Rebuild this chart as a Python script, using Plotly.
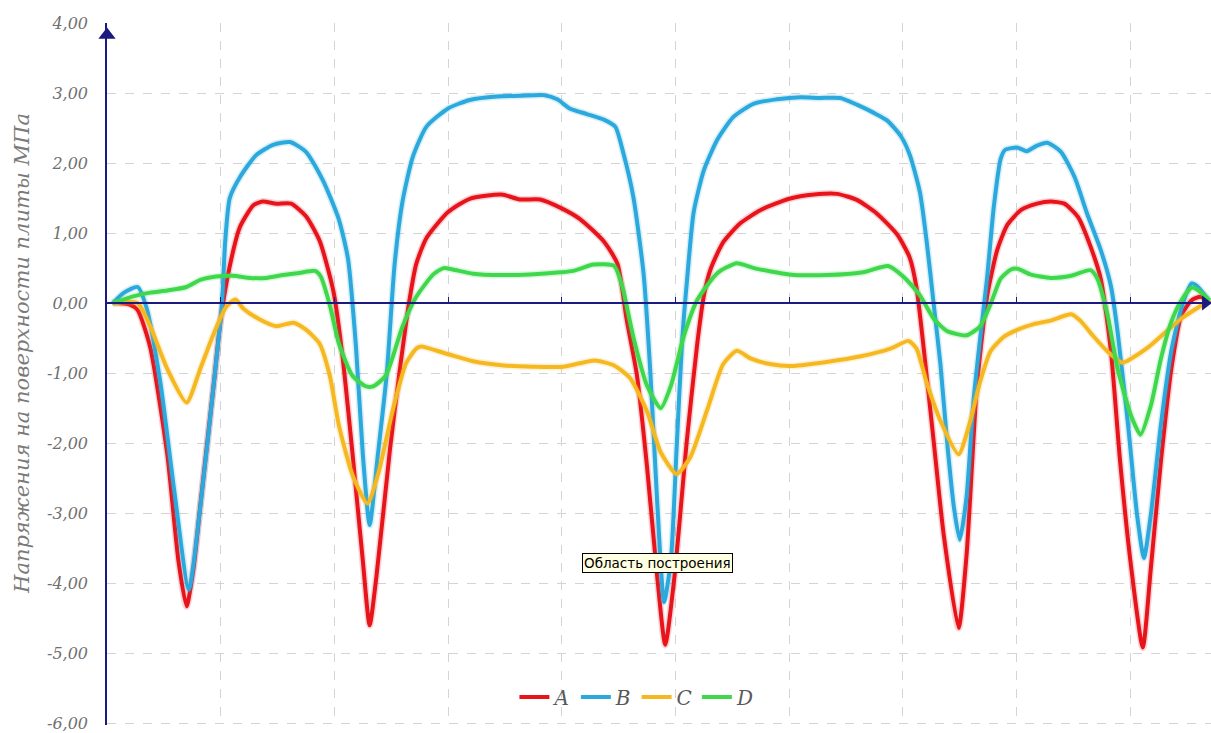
import plotly.graph_objects as go

# ---- data (x in grid units, y in MPa) ----
x_a = [0.05, 0.2, 0.27, 0.38, 0.53, 0.63, 0.70, 0.76, 0.82, 0.94, 1.0, 1.08, 1.17, 1.29, 1.37, 1.49, 1.62, 1.75, 1.87, 1.99,
       2.07, 2.16, 2.25, 2.31, 2.37, 2.49, 2.57, 2.66, 2.72, 2.81, 3.0, 3.19, 3.47, 3.63, 3.81, 3.99, 4.16, 4.37, 4.49, 4.57,
       4.66, 4.75, 4.84, 4.91, 4.99, 5.10, 5.19, 5.25, 5.31, 5.42, 5.57, 5.75, 6.0, 6.22, 6.42, 6.60, 6.77, 6.95, 7.06, 7.12,
       7.18, 7.27, 7.36, 7.49, 7.56, 7.65, 7.74, 7.83, 7.92, 8.04, 8.18, 8.30, 8.42, 8.54, 8.65, 8.74, 8.83, 8.91, 9.01, 9.11,
       9.18, 9.27, 9.36, 9.45, 9.54, 9.62, 9.70]
y_a = [0.0, -0.02, -0.1, -0.63, -2.16, -3.7, -4.33, -3.8, -2.9, -1.14, -0.23, 0.53, 1.09, 1.40, 1.45, 1.42, 1.42, 1.24, 0.89, 0.18,
       -0.74, -2.16, -3.68, -4.60, -3.9, -2.07, -1.02, 0.04, 0.56, 0.93, 1.30, 1.49, 1.55, 1.48, 1.48, 1.36, 1.20, 0.88, 0.56, -0.23,
       -1.02, -2.34, -3.92, -4.88, -3.92, -1.96, -0.60, 0.11, 0.49, 0.87, 1.14, 1.33, 1.49, 1.55, 1.56, 1.47, 1.28, 0.98, 0.65, 0.22,
       -0.60, -1.96, -3.32, -4.64, -3.6, -1.21, 0.09, 0.76, 1.12, 1.33, 1.42, 1.45, 1.42, 1.23, 0.81, 0.35, -0.69, -2.25, -3.80, -4.92,
       -3.80, -2.25, -0.95, -0.17, 0.04, 0.09, 0.0]

x_b = [0.05, 0.15, 0.27, 0.35, 0.47, 0.59, 0.72, 0.82, 0.94, 1.01, 1.04, 1.08, 1.17, 1.31, 1.46, 1.61, 1.75, 1.90, 2.04, 2.12,
       2.19, 2.25, 2.31, 2.38, 2.46, 2.53, 2.60, 2.69, 2.81, 3.0, 3.19, 3.43, 3.63, 3.84, 3.96, 4.07, 4.22, 4.37, 4.47, 4.54,
       4.63, 4.72, 4.78, 4.84, 4.90, 4.96, 5.01, 5.06, 5.10, 5.16, 5.25, 5.37, 5.51, 5.69, 5.89, 6.10, 6.27, 6.45, 6.60, 6.74,
       6.86, 6.98, 7.06, 7.15, 7.21, 7.27, 7.33, 7.39, 7.45, 7.50, 7.56, 7.62, 7.68, 7.74, 7.80, 7.86, 7.90, 8.01, 8.09, 8.18,
       8.27, 8.39, 8.51, 8.62, 8.74, 8.83, 8.89, 8.98, 9.06, 9.12, 9.18, 9.27, 9.36, 9.45, 9.54, 9.59, 9.68]
y_b = [0.0, 0.15, 0.23, -0.08, -1.14, -2.66, -4.09, -2.92, -1.14, -0.03, 0.89, 1.5, 1.80, 2.11, 2.26, 2.30, 2.16, 1.75, 1.19, 0.63,
       -0.63, -2.16, -3.17, -2.2, -1.02, 0.56, 1.46, 2.09, 2.52, 2.78, 2.90, 2.95, 2.96, 2.97, 2.91, 2.78, 2.70, 2.62, 2.52, 2.15,
       1.51, 0.41, -1.02, -2.87, -4.27, -3.66, -2.07, -0.5, 0.3, 1.30, 1.90, 2.34, 2.66, 2.85, 2.91, 2.94, 2.93, 2.93, 2.83, 2.72,
       2.61, 2.39, 2.12, 1.58, 0.87, 0.0, -0.87, -2.0, -2.93, -3.38, -2.77, -1.41, -0.5, 0.35, 1.38, 2.06, 2.19, 2.22, 2.17, 2.25,
       2.29, 2.16, 1.80, 1.28, 0.76, 0.24, -0.43, -1.73, -3.03, -3.64, -3.03, -1.73, -0.69, -0.07, 0.28, 0.24, 0.06]

x_c = [0.05, 0.27, 0.38, 0.53, 0.70, 0.82, 0.94, 1.05, 1.13, 1.20, 1.34, 1.49, 1.64, 1.75, 1.87, 1.96, 2.04, 2.16, 2.29, 2.39,
       2.51, 2.63, 2.72, 2.76, 3.0, 3.22, 3.49, 3.75, 4.01, 4.16, 4.29, 4.46, 4.60, 4.75, 4.87, 5.01, 5.13, 5.28, 5.42, 5.54,
       5.66, 5.83, 6.0, 6.33, 6.63, 6.89, 7.05, 7.12, 7.21, 7.33, 7.49, 7.59, 7.68, 7.77, 7.89, 8.01, 8.15, 8.30, 8.48, 8.56,
       8.68, 8.80, 8.93, 9.01, 9.15, 9.30, 9.45, 9.59, 9.70]
y_c = [0.0, 0.0, -0.33, -0.94, -1.42, -0.94, -0.43, -0.05, 0.05, -0.08, -0.23, -0.33, -0.28, -0.38, -0.58, -1.04, -1.75, -2.46, -2.86, -2.41,
       -1.55, -0.86, -0.65, -0.62, -0.73, -0.83, -0.89, -0.91, -0.91, -0.86, -0.82, -0.89, -1.07, -1.55, -2.13, -2.44, -2.20, -1.52, -0.87, -0.68,
       -0.79, -0.87, -0.90, -0.84, -0.76, -0.65, -0.54, -0.65, -1.14, -1.68, -2.16, -1.70, -1.12, -0.69, -0.48, -0.38, -0.30, -0.25, -0.16, -0.25,
       -0.48, -0.69, -0.85, -0.79, -0.64, -0.43, -0.22, -0.07, 0.04]

x_d = [0.05, 0.24, 0.38, 0.53, 0.70, 0.82, 0.96, 1.11, 1.26, 1.40, 1.55, 1.69, 1.83, 1.88, 1.96, 2.04, 2.16, 2.28, 2.34, 2.45,
       2.60, 2.72, 2.87, 2.96, 3.04, 3.22, 3.46, 3.72, 3.99, 4.10, 4.28, 4.46, 4.53, 4.63, 4.75, 4.87, 4.96, 5.07, 5.19, 5.37,
       5.54, 5.69, 6.0, 6.33, 6.65, 6.87, 7.01, 7.15, 7.27, 7.39, 7.56, 7.68, 7.77, 7.86, 7.95, 8.01, 8.12, 8.30, 8.48, 8.65,
       8.71, 8.80, 8.89, 9.01, 9.09, 9.18, 9.27, 9.36, 9.45, 9.54, 9.59, 9.70]
y_d = [0.0, 0.10, 0.15, 0.18, 0.23, 0.33, 0.38, 0.39, 0.36, 0.36, 0.40, 0.43, 0.46, 0.38, -0.03, -0.58, -1.04, -1.19, -1.19, -1.04,
       -0.33, 0.09, 0.41, 0.50, 0.48, 0.42, 0.40, 0.41, 0.44, 0.46, 0.55, 0.53, 0.25, -0.49, -1.18, -1.50, -1.18, -0.49, 0.04, 0.43,
       0.57, 0.50, 0.41, 0.40, 0.44, 0.53, 0.37, 0.11, -0.22, -0.40, -0.46, -0.33, -0.02, 0.35, 0.48, 0.49, 0.41, 0.36, 0.39, 0.47,
       0.35, -0.17, -0.95, -1.62, -1.88, -1.47, -0.79, -0.27, 0.04, 0.22, 0.19, 0.04]

series_names = ["A", "B", "C", "D"]
series_colors = ["#E8141C", "#2BA8DC", "#F5B820", "#3FD84C"]
y_ticks = [4, 3, 2, 1, 0, -1, -2, -3, -4, -5, -6]
y_ticktext = [f"{v:.2f}".replace(".", ",") for v in y_ticks]
y_title = "Напряжения на поверхности плиты МПа"
tooltip_text = "Область построения"

X_MIN, X_MAX = 0.0, 9.71
Y_MIN, Y_MAX = -6.0, 4.0
Y_PAD = 0.025
AXIS_COLOR = "#1A1A80"
SERIF = "DejaVu Serif"
TEXT_GRAY = "#707070"

fig = go.Figure()
for xs, ys, name, col in zip([x_a, x_b, x_c, x_d], [y_a, y_b, y_c, y_d], series_names, series_colors):
    # soft shadow
    fig.add_trace(go.Scatter(x=xs, y=ys, mode="lines", line=dict(color=col, width=7, shape="spline", smoothing=0.6),
                             opacity=0.18, showlegend=False, hoverinfo="skip"))
    fig.add_trace(go.Scatter(x=xs, y=ys, mode="lines", name=name,
                             line=dict(color=col, width=4, shape="spline", smoothing=0.6)))

# axis arrows
fig.add_trace(go.Scatter(x=[X_MIN], y=[Y_MAX - 0.17], mode="markers",
                         marker=dict(symbol="triangle-up", size=15, color=AXIS_COLOR),
                         showlegend=False, hoverinfo="skip", cliponaxis=False))
fig.add_trace(go.Scatter(x=[X_MAX - 0.05], y=[0], mode="markers",
                         marker=dict(symbol="triangle-right", size=13, color=AXIS_COLOR),
                         showlegend=False, hoverinfo="skip", cliponaxis=False))

y_lo = Y_MIN - Y_PAD
zero_frac = (0 - y_lo) / (Y_MAX - y_lo)

fig.update_layout(
    width=1211, height=733,
    margin=dict(l=107, r=0, t=23, b=6),
    paper_bgcolor="white", plot_bgcolor="white",
    showlegend=True,
    legend=dict(orientation="h", x=0.48, y=0.04, xanchor="center", yanchor="middle",
                font=dict(family=SERIF, size=20, color="#595959", style="italic"),
                bgcolor="rgba(0,0,0,0)", itemwidth=30, tracegroupgap=0),
    xaxis=dict(range=[X_MIN, X_MAX], dtick=1, tick0=0, showgrid=True, gridcolor="#D4D4D4",
               griddash="dash", gridwidth=1, showticklabels=False, ticks="inside", ticklen=5,
               tickcolor=AXIS_COLOR, showline=True, linecolor=AXIS_COLOR, linewidth=1.5,
               anchor="free", position=zero_frac, zeroline=False),
    yaxis=dict(range=[y_lo, Y_MAX], tickvals=y_ticks, ticktext=y_ticktext, showgrid=True,
               gridcolor="#D4D4D4", griddash="dash", gridwidth=1, zeroline=False,
               showline=True, linecolor=AXIS_COLOR, linewidth=1.5, ticks="",
               ticklabelstandoff=14, ticklabeloverflow="allow",
               tickfont=dict(family=SERIF, size=16, color=TEXT_GRAY, style="italic")),
    annotations=[
        dict(text=y_title, xref="paper", yref="paper", x=-0.077, y=0.53, textangle=-90,
             showarrow=False, xanchor="center", yanchor="middle",
             font=dict(family=SERIF, size=21, color="#7A7A7A", style="italic")),
        dict(text=tooltip_text, xref="paper", yref="paper", x=0.4986, y=0.2308,
             showarrow=False, xanchor="center", yanchor="middle",
             font=dict(family="DejaVu Sans", size=13.5, color="black"),
             bgcolor="#FFFFE1", bordercolor="black", borderwidth=1, borderpad=1),
    ],
)

fig.write_html("out.html", config={"displayModeBar": False},
               post_script="document.body.style.margin='0';")
